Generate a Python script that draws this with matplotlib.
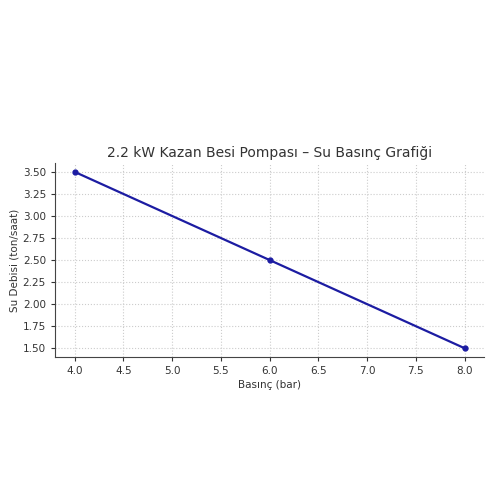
import matplotlib.pyplot as plt

# data
pressure = [4.0, 6.0, 8.0]
flow = [3.5, 2.5, 1.5]

title = "2.2 kW Kazan Besi Pompası – Su Basınç Grafiği"
xlabel = "Basınç (bar)"
ylabel = "Su Debisi (ton/saat)"

fig = plt.figure(figsize=(5, 5), dpi=100)
ax = fig.add_axes([0.11, 0.286, 0.858, 0.388])

ax.plot(pressure, flow, color="#1c1ca2", marker="o", markersize=3.5, linewidth=1.6)

ax.set_title(title, fontsize=10, color="#333333", pad=4)
ax.set_xlabel(xlabel, fontsize=7.5, color="#333333", labelpad=3)
ax.set_ylabel(ylabel, fontsize=7.5, color="#333333", labelpad=2)
ax.tick_params(labelsize=7.5, colors="#333333", length=3)
ax.grid(True, linestyle=":", color="#cccccc", linewidth=0.8)
ax.spines["top"].set_visible(False)
ax.spines["right"].set_visible(False)
for s in ("left", "bottom"):
    ax.spines[s].set_color("#444444")

fig.savefig("out.png", dpi=100)
